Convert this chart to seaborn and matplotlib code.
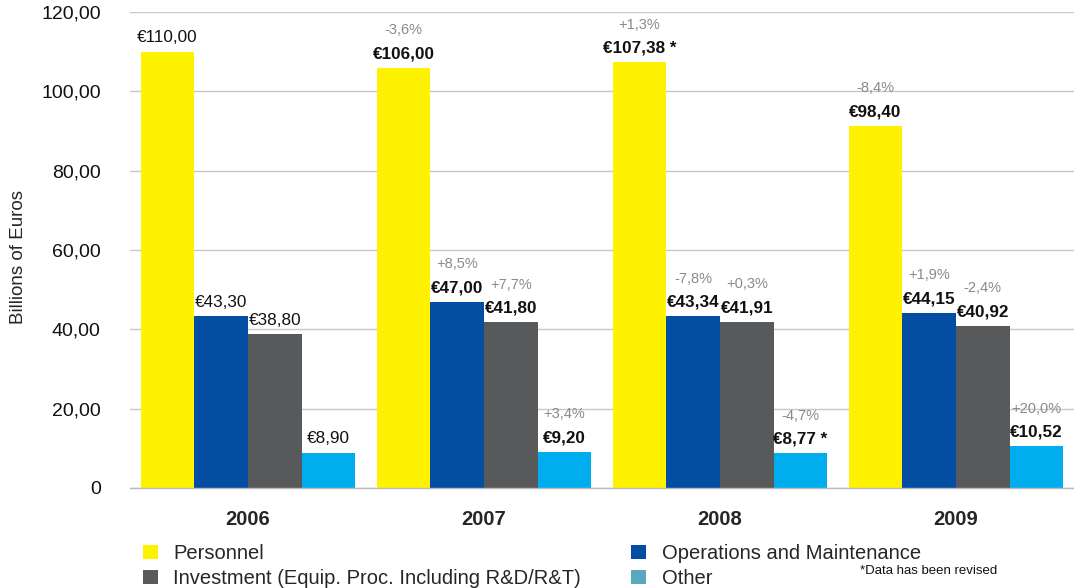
import matplotlib
matplotlib.use('Agg')
import matplotlib.pyplot as plt
import seaborn as sns
import pandas as pd
from matplotlib.patches import Patch
from matplotlib.ticker import FixedLocator

# ---------------- data ----------------
years = ['2006', '2007', '2008', '2009']
series = ['Personnel', 'Operations and Maintenance',
          'Investment (Equip. Proc. Including R&D/R&T)', 'Other']

personnel = [110.00, 106.00, 107.38, 91.30]
operations = [43.30, 47.00, 43.34, 44.15]
investment = [38.80, 41.80, 41.91, 40.92]
other = [8.90, 9.20, 8.77, 10.52]

personnel_labels = ['€110,00', '€106,00', '€107,38 *', '€98,40']
operations_labels = ['€43,30', '€47,00', '€43,34', '€44,15']
investment_labels = ['€38,80', '€41,80', '€41,91', '€40,92']
other_labels = ['€8,90', '€9,20', '€8,77 *', '€10,52']

personnel_pct = ['', '-3,6%', '+1,3%', '-8,4%']
operations_pct = ['', '+8,5%', '-7,8%', '+1,9%']
investment_pct = ['', '+7,7%', '+0,3%', '-2,4%']
other_pct = ['', '+3,4%', '-4,7%', '+20,0%']

yticks = [0, 20, 40, 60, 80, 100, 120]
ytick_labels = ['0', '20,00', '40,00', '60,00', '80,00', '100,00', '120,00']
footnote = '*Data has been revised'
ylabel = 'Billions of Euros'

# ---------------- styling ----------------
colors = ['#fff200', '#034ea2', '#58595b', '#00aeef']
legend_colors = ['#fff200', '#034ea2', '#58595b', '#5aa8bf']

sns.set_style('white')
plt.rcParams['font.family'] = ['Liberation Sans', 'DejaVu Sans']

values = [personnel, operations, investment, other]
vlabels = [personnel_labels, operations_labels, investment_labels, other_labels]
plabels = [personnel_pct, operations_pct, investment_pct, other_pct]

rows = []
for s, vals in zip(series, values):
    for y, v in zip(years, vals):
        rows.append({'year': y, 'series': s, 'value': v})
df = pd.DataFrame(rows)

fig = plt.figure(figsize=(10.74, 5.88), dpi=100)
ax = fig.add_axes([130 / 1074, 100 / 588, 944 / 1074, 476 / 588])

sns.barplot(data=df, x='year', y='value', hue='series', order=years,
            hue_order=series, palette=colors, saturation=1, width=0.91,
            ax=ax, legend=False, errorbar=None, linewidth=0)

ax.set_ylim(0, 120)
ax.set_xlim(-0.5, 3.5)
ax.set_yticks(yticks)
ax.set_yticklabels(ytick_labels)
ax.yaxis.grid(True, color='#c8c8c8', linewidth=1)
ax.set_axisbelow(True)
for s in ['left', 'right', 'top']:
    ax.spines[s].set_visible(False)
ax.spines['bottom'].set_color('#bbbbbb')
ax.spines['bottom'].set_linewidth(1)

ax.tick_params(axis='y', length=0, pad=21, labelsize=14, labelcolor='#111111')
ax.tick_params(axis='x', which='major', length=0, pad=16, labelsize=14.5)
for lbl in ax.get_xticklabels():
    lbl.set_fontweight('bold')
ax.xaxis.set_minor_locator(FixedLocator([0.5, 1.5, 2.5]))
ax.tick_params(axis='x', which='minor', length=6, color='#bbbbbb', width=1)

ax.set_xlabel('')
ax.set_ylabel(ylabel, fontsize=13.5)
ax.yaxis.set_label_coords(-0.109, 0.485)

# labels
for ci, cont in enumerate(ax.containers):
    for bi, bar in enumerate(cont):
        cx = bar.get_x() + bar.get_width() / 2
        h = bar.get_height()
        weight = 'normal' if bi == 0 else 'bold'
        ax.annotate(vlabels[ci][bi], (cx, h), xytext=(0, 10),
                    textcoords='offset points', ha='center', va='center',
                    fontsize=12.3, fontweight=weight, color='#111111')
        if plabels[ci][bi]:
            ax.annotate(plabels[ci][bi], (cx, h), xytext=(0, 27),
                        textcoords='offset points', ha='center', va='center',
                        fontsize=10.5, color='#8a8a8a')

# legend
order = [0, 2, 1, 3]
handles = [Patch(facecolor=legend_colors[i], edgecolor='none') for i in order]
labels = [series[i] for i in order]
fig.legend(handles, labels, loc='upper left', bbox_to_anchor=(143 / 1074, 1 - 544 / 588),
           ncol=2, frameon=False, fontsize=14.5, handlelength=0.75, handleheight=0.75,
           handletextpad=0.75, columnspacing=2.5, labelspacing=0.3,
           borderaxespad=0, borderpad=0)

fig.text(860 / 1074, 1 - 571 / 588, footnote, fontsize=9.5, va='center', ha='left',
         color='#111111')

fig.savefig('out.png', dpi=100)
